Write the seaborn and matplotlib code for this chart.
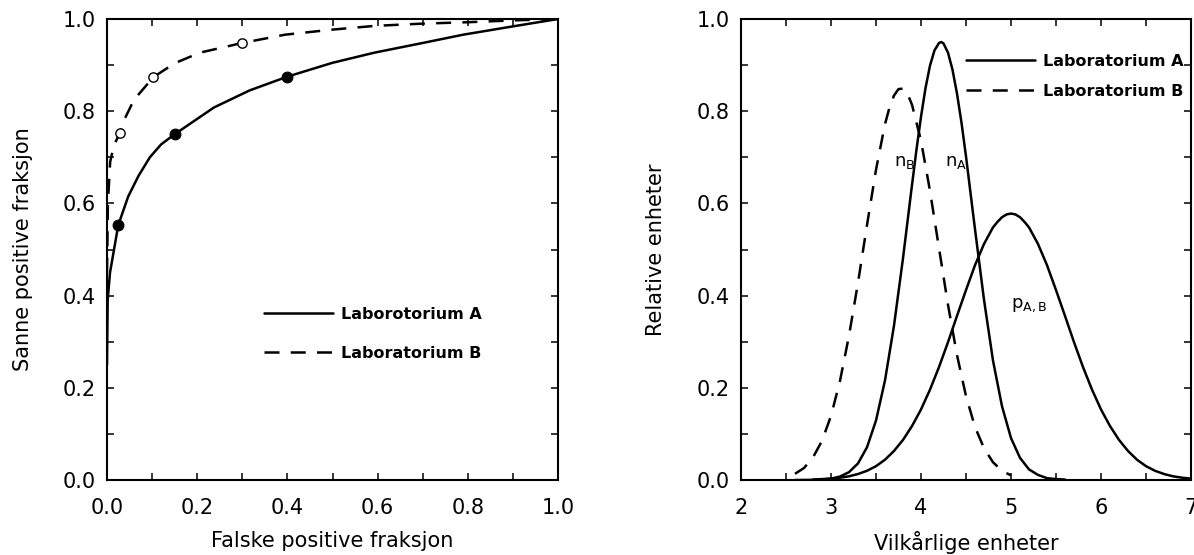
import matplotlib
matplotlib.use("Agg")
import matplotlib.pyplot as plt
import seaborn as sns
import pandas as pd

# ---------------- data ----------------
# Left panel: ROC curves
roc_a_x = [0.0, 0.0015, 0.0067, 0.025, 0.047, 0.07, 0.095, 0.12, 0.15, 0.237,
           0.316, 0.40, 0.50, 0.593, 0.70, 0.79, 0.90, 1.0]
roc_a_y = [0.25, 0.39, 0.45, 0.553, 0.615, 0.66, 0.70, 0.728, 0.75, 0.808,
           0.845, 0.875, 0.905, 0.927, 0.948, 0.966, 0.984, 1.0]
roc_b_x = [0.0, 0.002, 0.007, 0.015, 0.028, 0.04, 0.06, 0.103, 0.15, 0.206,
           0.30, 0.395, 0.50, 0.593, 0.70, 0.80, 0.90, 1.0]
roc_b_y = [0.45, 0.60, 0.69, 0.725, 0.752, 0.785, 0.825, 0.874, 0.904, 0.927,
           0.948, 0.966, 0.977, 0.985, 0.990, 0.993, 0.997, 1.0]
pts_a_x = [0.025, 0.15, 0.40]
pts_a_y = [0.553, 0.75, 0.875]
pts_b_x = [0.028, 0.103, 0.30]
pts_b_y = [0.752, 0.874, 0.948]
legend_left = ["Laborotorium A", "Laboratorium B"]

# Right panel: distributions
na_x = [2.6, 2.7, 2.8, 2.9, 3.0, 3.1, 3.2, 3.3, 3.4, 3.5, 3.6, 3.7, 3.8, 3.9,
        3.95, 4.0, 4.05, 4.1, 4.15, 4.2, 4.225, 4.25, 4.3, 4.35, 4.4, 4.45,
        4.5, 4.6, 4.7, 4.8, 4.9, 5.0, 5.1, 5.2, 5.3, 5.4, 5.5, 5.6]
na_y = [0.000, 0.0001, 0.0004, 0.001, 0.003, 0.0075, 0.017, 0.036, 0.071,
        0.129, 0.216, 0.335, 0.481, 0.640, 0.717, 0.788, 0.850, 0.899, 0.932,
        0.948, 0.950, 0.947, 0.927, 0.890, 0.838, 0.775, 0.702, 0.544, 0.391,
        0.259, 0.160, 0.091, 0.048, 0.023, 0.011, 0.004, 0.002, 0.001]
nb_x = [2.6, 2.7, 2.8, 2.9, 3.0, 3.1, 3.2, 3.3, 3.4, 3.5, 3.6, 3.65, 3.7, 3.75,
        3.8, 3.85, 3.9, 4.0, 4.1, 4.2, 4.3, 4.4, 4.5, 4.6, 4.7, 4.8, 4.9, 5.0]
nb_y = [0.0135, 0.026, 0.049, 0.085, 0.139, 0.215, 0.313, 0.428, 0.553, 0.673,
        0.772, 0.808, 0.834, 0.848, 0.849, 0.838, 0.814, 0.736, 0.627, 0.503,
        0.380, 0.271, 0.182, 0.115, 0.069, 0.0385, 0.020, 0.010]
pab_x = [2.8, 2.9, 3.0, 3.1, 3.2, 3.3, 3.4, 3.5, 3.6, 3.7, 3.8, 3.9, 4.0, 4.1,
         4.2, 4.3, 4.4, 4.5, 4.6, 4.7, 4.75, 4.8, 4.85, 4.9, 4.95, 5.0, 5.05,
         5.1, 5.15, 5.2, 5.25, 5.3, 5.4, 5.5, 5.6, 5.7, 5.8, 5.9, 6.0, 6.1,
         6.2, 6.3, 6.4, 6.5, 6.6, 6.7, 6.8, 6.9, 7.0]
pab_y = [0.001, 0.002, 0.003, 0.005, 0.008, 0.013, 0.020, 0.030, 0.044, 0.063,
         0.087, 0.117, 0.153, 0.196, 0.245, 0.299, 0.356, 0.412, 0.466, 0.512,
         0.530, 0.548, 0.560, 0.570, 0.576, 0.578, 0.576, 0.570, 0.560, 0.548,
         0.530, 0.512, 0.466, 0.412, 0.356, 0.299, 0.245, 0.196, 0.153, 0.117,
         0.087, 0.063, 0.044, 0.030, 0.020, 0.013, 0.008, 0.005, 0.003]
legend_right = ["Laboratorium A", "Laboratorium B"]

# ---------------- style ----------------
sns.set_theme(style="ticks")
plt.rcParams["font.family"] = ["DejaVu Sans"]
plt.rcParams["mathtext.fontset"] = "dejavusans"
for key in ["text.color", "axes.labelcolor", "xtick.color", "ytick.color",
            "axes.edgecolor"]:
    plt.rcParams[key] = "black"

LW = 1.8
DASH = (0, (6, 4.5))

fig = plt.figure(figsize=(11.94, 5.55), dpi=100)
fig.patch.set_facecolor("white")
W, H = 1194, 555
ax1 = fig.add_axes([107 / W, 75 / H, 451 / W, 461 / H])
ax2 = fig.add_axes([741 / W, 75 / H, 450 / W, 461 / H])


def style_axes(ax):
    ax.set_facecolor("white")
    for s in ax.spines.values():
        s.set_visible(True)
        s.set_linewidth(1.5)
        s.set_color("black")
    ax.tick_params(which="both", direction="in", top=True, right=True,
                   width=1.1, length=5, color="black", labelcolor="black")
    ax.tick_params(axis="x", which="major", labelsize=15, pad=13)
    ax.tick_params(axis="y", which="major", labelsize=15, pad=8)


# ---- left panel ----
dfa = pd.DataFrame({"x": roc_a_x, "y": roc_a_y})
dfb = pd.DataFrame({"x": roc_b_x, "y": roc_b_y})
sns.lineplot(data=dfa, x="x", y="y", ax=ax1, color="black", linewidth=LW,
             sort=False, estimator=None, legend=False)
sns.lineplot(data=dfb, x="x", y="y", ax=ax1, color="black", linewidth=LW,
             sort=False, estimator=None, legend=False, linestyle=DASH)
sns.scatterplot(x=pts_a_x, y=pts_a_y, ax=ax1, color="black", s=60,
                edgecolor="black", linewidth=0.8, zorder=4, legend=False)
sns.scatterplot(x=pts_b_x, y=pts_b_y, ax=ax1, color="white", s=45,
                edgecolor="black", linewidth=1.0, zorder=4, legend=False)
ax1.set_xlim(0, 1)
ax1.set_ylim(0, 1)
ax1.set_xticks([0.0, 0.2, 0.4, 0.6, 0.8, 1.0])
ax1.set_yticks([0.0, 0.2, 0.4, 0.6, 0.8, 1.0])
ax1.set_xticks([0.1, 0.3, 0.5, 0.7, 0.9], minor=True)
ax1.set_yticks([0.1, 0.3, 0.5, 0.7, 0.9], minor=True)
ax1.set_xticklabels(["0.0", "0.2", "0.4", "0.6", "0.8", "1.0"])
ax1.set_yticklabels(["0.0", "0.2", "0.4", "0.6", "0.8", "1.0"])
ax1.set_xlabel("Falske positive fraksjon", fontsize=15, labelpad=9)
ax1.set_ylabel("Sanne positive fraksjon", fontsize=15, labelpad=21)
style_axes(ax1)
lines1 = ax1.get_lines()
ax1.legend(handles=[lines1[0], lines1[1]], labels=legend_left,
           loc="upper left", bbox_to_anchor=(0.348, 0.376),
           frameon=False, borderpad=0, borderaxespad=0,
           handlelength=4.3, handletextpad=0.5, labelspacing=1.5,
           prop={"size": 11.5, "weight": "bold"})

# ---- right panel ----
dna = pd.DataFrame({"x": na_x, "y": na_y})
dnb = pd.DataFrame({"x": nb_x, "y": nb_y})
dpab = pd.DataFrame({"x": pab_x, "y": pab_y})
sns.lineplot(data=dna, x="x", y="y", ax=ax2, color="black", linewidth=LW,
             sort=False, estimator=None, legend=False)
sns.lineplot(data=dnb, x="x", y="y", ax=ax2, color="black", linewidth=LW,
             sort=False, estimator=None, legend=False, linestyle=DASH)
sns.lineplot(data=dpab, x="x", y="y", ax=ax2, color="black", linewidth=LW,
             sort=False, estimator=None, legend=False)
ax2.set_xlim(2, 7)
ax2.set_ylim(0, 1)
ax2.set_xticks([2, 3, 4, 5, 6, 7])
ax2.set_xticks([2.5, 3.5, 4.5, 5.5, 6.5], minor=True)
ax2.set_yticks([0.0, 0.2, 0.4, 0.6, 0.8, 1.0])
ax2.set_yticks([0.1, 0.3, 0.5, 0.7, 0.9], minor=True)
ax2.set_xticklabels(["2", "3", "4", "5", "6", "7"])
ax2.set_yticklabels(["0.0", "0.2", "0.4", "0.6", "0.8", "1.0"])
ax2.set_xlabel("Vilkårlige enheter", fontsize=15, labelpad=9)
ax2.set_ylabel("Relative enheter", fontsize=15, labelpad=22)
style_axes(ax2)
lines2 = ax2.get_lines()
ax2.legend(handles=[lines2[0], lines2[1]], labels=legend_right,
           loc="upper left", bbox_to_anchor=(0.5, 0.925),
           frameon=False, borderpad=0, borderaxespad=0,
           handlelength=4.3, handletextpad=0.5, labelspacing=0.97,
           prop={"size": 11.5, "weight": "bold"})

ax2.text(3.70, 0.69, r"n$_{\mathregular{B}}$", fontsize=13, ha="left", va="center")
ax2.text(4.27, 0.69, r"n$_{\mathregular{A}}$", fontsize=13, ha="left", va="center")
ax2.text(5.0, 0.38, r"p$_{\mathregular{A,B}}$", fontsize=13, ha="left", va="center")

fig.savefig("out.png", dpi=100, facecolor="white")
